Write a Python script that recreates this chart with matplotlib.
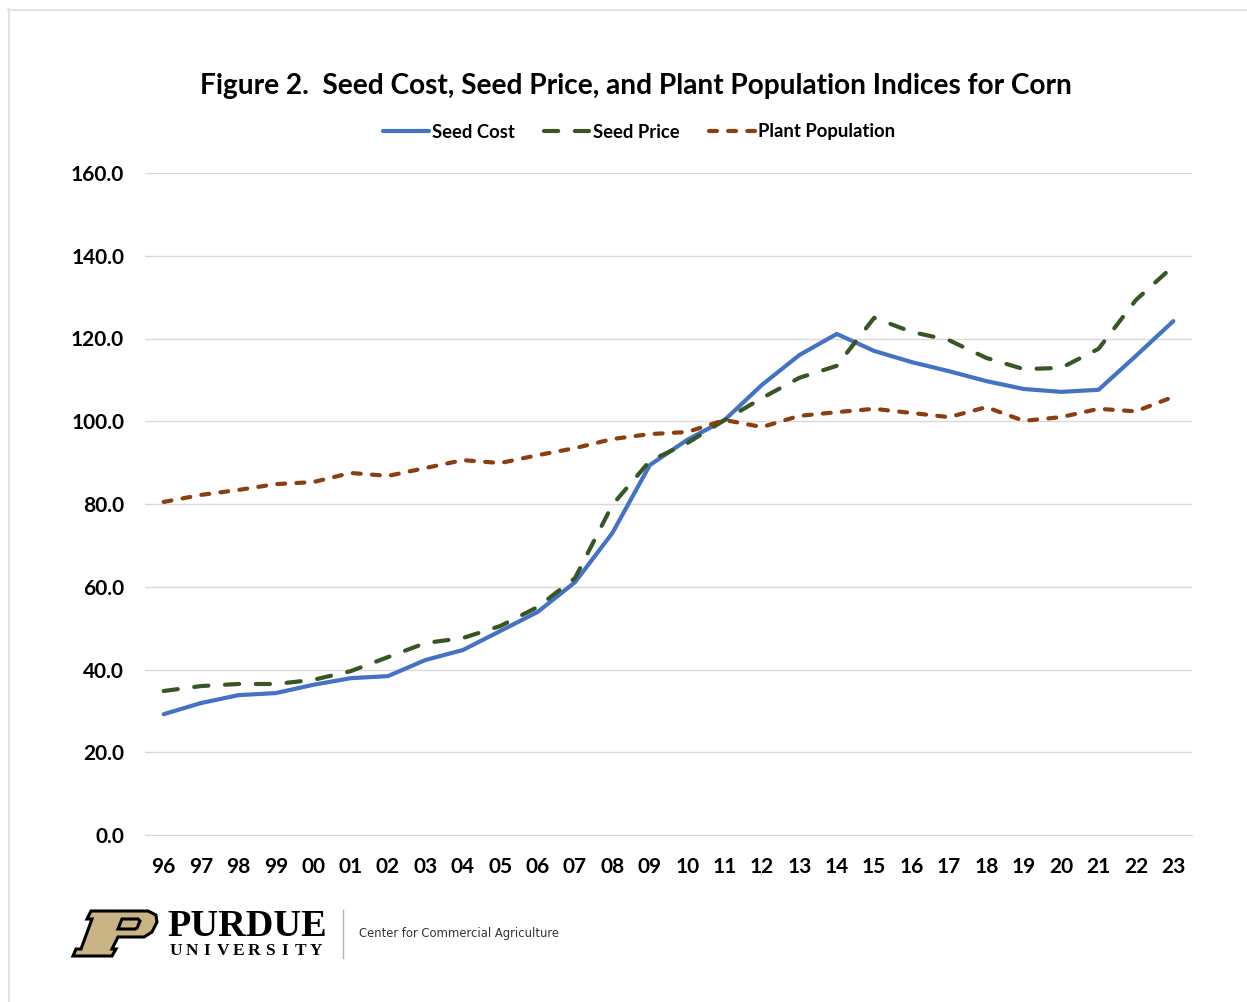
import matplotlib.pyplot as plt
from matplotlib.path import Path
from matplotlib.patches import PathPatch
from matplotlib.lines import Line2D

# Data
years = ["96", "97", "98", "99", "00", "01", "02", "03", "04", "05", "06", "07", "08", "09",
         "10", "11", "12", "13", "14", "15", "16", "17", "18", "19", "20", "21", "22", "23"]
seed_cost = [29.2, 31.9, 33.8, 34.3, 36.3, 37.9, 38.4, 42.3, 44.7, 49.3, 53.9, 61.1, 73.0, 89.4,
             95.5, 100.3, 108.8, 116.0, 121.1, 117.0, 114.3, 112.1, 109.7, 107.8, 107.1, 107.6,
             115.8, 124.2]
seed_price = [34.8, 36.0, 36.5, 36.5, 37.5, 39.6, 43.0, 46.4, 47.6, 50.5, 55.1, 62.1, 79.8, 90.4,
              94.7, 100.3, 105.6, 110.5, 113.4, 125.0, 121.6, 119.6, 115.3, 112.6, 112.9, 117.5,
              129.3, 137.5]
plant_pop = [80.5, 82.2, 83.4, 84.8, 85.3, 87.5, 86.8, 88.7, 90.6, 89.9, 91.8, 93.5, 95.7, 96.9,
             97.4, 100.3, 98.6, 101.3, 102.2, 103.0, 102.0, 101.0, 103.4, 100.1, 101.0, 103.0,
             102.4, 105.9]
y_ticks = [0, 20, 40, 60, 80, 100, 120, 140, 160]

FONT = ["Lato", "DejaVu Sans"]
W, H = 1247, 1002

fig = plt.figure(figsize=(W / 100, H / 100), dpi=100)
fig.patch.set_facecolor("white")

# axes placed in pixel terms: left 145, right 1192, top 173, bottom 835
ax = fig.add_axes([145 / W, 1 - 835 / H, (1192 - 145) / W, (835 - 173) / H])
x = list(range(len(years)))

ax.plot(x, seed_cost, color="#4472C4", lw=3, solid_capstyle="round", label="Seed Cost", zorder=3)
ax.plot(x, seed_price, color="#375623", lw=3, linestyle=(0, (3.4, 4.0)),
        dash_capstyle="round", label="Seed Price", zorder=3)
ax.plot(x, plant_pop, color="#8B3F0F", lw=3, linestyle=(0, (1.9, 2.7)),
        dash_capstyle="round", label="Plant Population", zorder=3)

ax.set_xlim(-0.5, len(years) - 0.5)
ax.set_ylim(0, 160)
ax.set_yticks(y_ticks)
ax.set_yticklabels([f"{v:.1f}" for v in y_ticks])
ax.set_xticks(x)
ax.set_xticklabels(years)
ax.grid(axis="y", color="#d9d9d9", lw=1)
ax.set_axisbelow(True)
for s in ["top", "right", "left"]:
    ax.spines[s].set_visible(False)
ax.spines["bottom"].set_color("#d9d9d9")
ax.tick_params(axis="both", length=0, labelsize=15, colors="black")
ax.tick_params(axis="y", pad=15)
ax.tick_params(axis="x", pad=16)
for lab in ax.get_xticklabels() + ax.get_yticklabels():
    lab.set_fontfamily(FONT)
    lab.set_fontweight("bold")

fig.text(635.5 / W, 1 - 86 / H, "Figure 2.  Seed Cost, Seed Price, and Plant Population Indices for Corn",
         ha="center", va="center", fontsize=20.2, fontweight="bold", family=FONT)

leg = fig.legend(loc="center", bbox_to_anchor=(639 / W, 1 - 132 / H), ncol=3, frameon=False,
                 handlelength=2.5, handletextpad=0.15, columnspacing=1.6,
                 prop={"family": FONT, "weight": "bold", "size": 13.3})

# overlay in pixel coordinates for border and logo
ov = fig.add_axes([0, 0, 1, 1], facecolor="none")
ov.set_xlim(0, W)
ov.set_ylim(H, 0)
ov.axis("off")
ov.add_line(Line2D([8, W], [9.5, 9.5], color="#e3e3e3", lw=1.5))
ov.add_line(Line2D([8.5, 8.5], [9, H], color="#e3e3e3", lw=1.5))

# Purdue "P" motif
outer = [(99, 911), (148, 911), (156, 915), (157, 922), (152, 932), (144, 937), (118, 937),
         (112, 949), (116, 949), (112, 956), (73, 956), (76, 949), (81, 949), (92, 919),
         (87, 919), (91, 911), (99, 911)]
inner = [(122, 919), (138, 919), (140, 921), (137, 928), (135, 929), (118, 929), (122, 919)]
verts = outer + inner
codes = ([Path.MOVETO] + [Path.LINETO] * (len(outer) - 2) + [Path.CLOSEPOLY]
         + [Path.MOVETO] + [Path.LINETO] * (len(inner) - 2) + [Path.CLOSEPOLY])
ov.add_patch(PathPatch(Path(verts, codes), facecolor="#C9B486", edgecolor="black", lw=2.2,
                       joinstyle="miter"))

ov.text(167, 926, "PURDUE", ha="left", va="center", fontsize=27.5, fontweight="bold",
        family="Liberation Serif", color="black")
letters = "UNIVERSITY"
for i, ch in enumerate(letters):
    ov.text(176 + i * 15.6, 951, ch, ha="center", va="center", fontsize=12.5, fontweight="bold",
            family="Liberation Serif", color="black")
ov.add_line(Line2D([343, 343], [910, 958], color="#b5b5b5", lw=1))
ov.text(359, 934, "Center for Commercial Agriculture", ha="left", va="center", fontsize=9.3,
        family=["DejaVu Sans Condensed", "Liberation Sans Narrow", "DejaVu Sans"],
        stretch="condensed", color="#333333")

fig.savefig("out.png", dpi=100, facecolor="white")
